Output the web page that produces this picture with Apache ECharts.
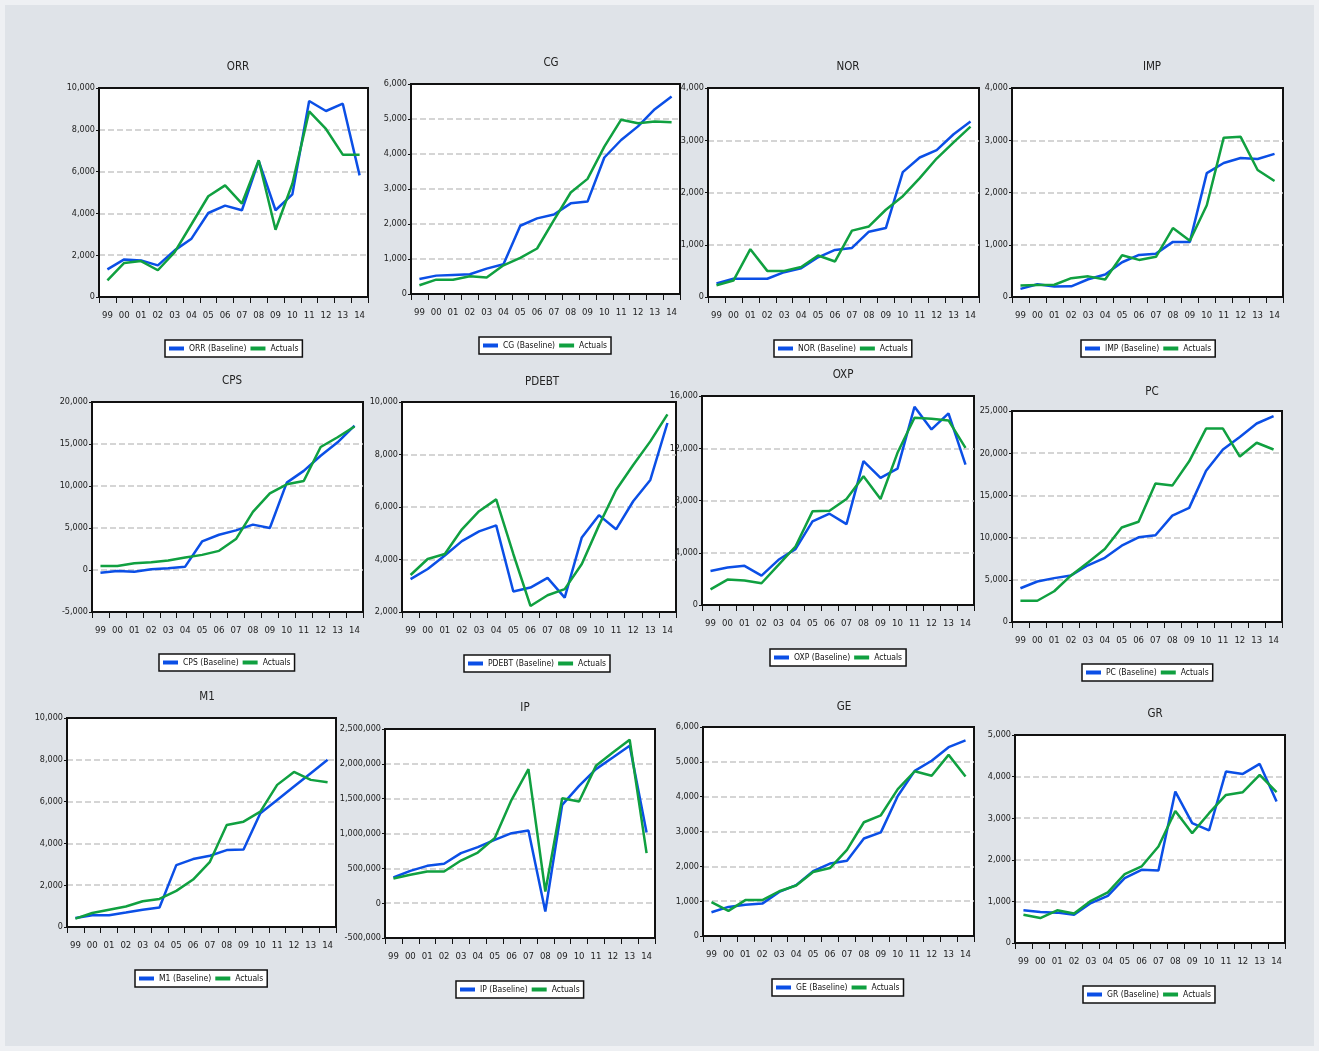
<!DOCTYPE html>
<html>
<head>
<meta charset="utf-8">
<script src="https://cdn.jsdelivr.net/npm/echarts@6/dist/echarts.min.js"></script>
<style>
  html, body { margin: 0; padding: 0; background: #eef0f3; }
  #main { width: 1319px; height: 1051px; background: #dfe3e8; box-shadow: inset 0 0 0 5px #eef0f3; }
</style>
</head>
<body>
<div id="main"></div>
<script>
var years = ['99', '00', '01', '02', '03', '04', '05', '06', '07', '08', '09', '10', '11', '12', '13', '14'];

var orrBase = [1320, 1800, 1750, 1515, 2230, 2790, 4020, 4370, 4150, 6510, 4150, 4910, 9380, 8900, 9250, 5820];
var orrAct  = [800, 1630, 1720, 1280, 2150, 3480, 4820, 5340, 4470, 6540, 3220, 5420, 8880, 8040, 6810, 6810];

var cgBase = [430, 525, 545, 565, 725, 850, 1950, 2160, 2270, 2590, 2640, 3900, 4400, 4790, 5280, 5645];
var cgAct  = [250, 410, 410, 505, 470, 820, 1030, 1300, 2110, 2900, 3290, 4210, 4980, 4880, 4930, 4910];

var norBase = [260, 350, 350, 350, 475, 550, 760, 900, 940, 1250, 1320, 2390, 2670, 2810, 3115, 3360];
var norAct  = [225, 315, 915, 500, 500, 575, 795, 680, 1270, 1350, 1670, 1930, 2275, 2650, 2960, 3260];

var impBase = [155, 245, 200, 205, 340, 430, 665, 805, 830, 1055, 1055, 2370, 2565, 2660, 2640, 2740];
var impAct  = [220, 230, 235, 360, 395, 335, 800, 710, 770, 1320, 1075, 1755, 3050, 3065, 2430, 2220];

var cpsBase = [-320, -120, -200, 80, 200, 400, 3400, 4200, 4720, 5400, 5000, 10400, 11800, 13600, 15200, 17200];
var cpsAct  = [480, 480, 800, 920, 1120, 1480, 1800, 2280, 3680, 6920, 9120, 10200, 10600, 14640, 15800, 17080];

var pdebtBase = [3250, 3640, 4150, 4700, 5070, 5300, 2780, 2930, 3300, 2550, 4840, 5690, 5150, 6220, 7030, 9200];
var pdebtAct  = [3410, 4020, 4210, 5150, 5840, 6290, 4210, 2230, 2640, 2870, 3830, 5300, 6650, 7600, 8500, 9530];

var oxpBase = [2610, 2870, 3000, 2250, 3460, 4275, 6400, 6990, 6195, 11010, 9730, 10445, 15180, 13440, 14670, 10750];
var oxpAct  = [1200, 1945, 1870, 1665, 3070, 4480, 7170, 7220, 8115, 9860, 8115, 11650, 14340, 14260, 14130, 12030];

var pcBase = [4000, 4800, 5200, 5520, 6720, 7600, 9040, 10040, 10280, 12600, 13520, 17920, 20440, 21920, 23520, 24400];
var pcAct  = [2520, 2520, 3640, 5520, 7040, 8640, 11200, 11880, 16400, 16160, 19040, 22920, 22920, 19600, 21240, 20440];

var m1Base = [430, 560, 560, 690, 830, 930, 2960, 3250, 3410, 3680, 3710, 5440, 6080, 6720, 7360, 8000];
var m1Act  = [400, 670, 830, 980, 1230, 1340, 1730, 2270, 3120, 4880, 5040, 5520, 6800, 7420, 7040, 6930];

var ipBase = [368000, 464000, 536000, 565000, 718000, 804000, 909000, 1005000, 1043000, -120000, 1412000, 1684000, 1924000, 2091000, 2259000, 1014000];
var ipAct  = [354000, 407000, 455000, 455000, 612000, 727000, 933000, 1483000, 1924000, 167000, 1507000, 1459000, 1971000, 2163000, 2345000, 718000];

var geBase = [680, 835, 900, 930, 1265, 1460, 1860, 2080, 2160, 2800, 2975, 4020, 4740, 5030, 5420, 5615];
var geAct  = [970, 720, 1030, 1030, 1285, 1450, 1840, 1950, 2470, 3265, 3465, 4215, 4730, 4600, 5200, 4580];

var grBase = [785, 745, 730, 680, 960, 1135, 1560, 1760, 1745, 3640, 2880, 2705, 4120, 4065, 4305, 3400];
var grAct  = [680, 600, 785, 710, 1015, 1215, 1655, 1840, 2320, 3175, 2640, 3120, 3560, 3625, 4040, 3625];

// name, baseline, actuals, y range, plot box, title centre, legend centre-x / top
var panels = [
    { name: 'ORR',   base: orrBase,   act: orrAct,   min: 0,       max: 10000,   step: 2000,    box: [99, 88, 269, 209],    title: [233, 63],   legend: [234, 340] },
    { name: 'CG',    base: cgBase,    act: cgAct,    min: 0,       max: 6000,    step: 1000,    box: [411, 84, 269, 210],   title: [546, 59],   legend: [545, 337] },
    { name: 'NOR',   base: norBase,   act: norAct,   min: 0,       max: 4000,    step: 1000,    box: [708, 88, 271, 209],   title: [843, 63],   legend: [843, 340] },
    { name: 'IMP',   base: impBase,   act: impAct,   min: 0,       max: 4000,    step: 1000,    box: [1012, 88, 271, 209],  title: [1147, 63],  legend: [1148, 340] },
    { name: 'CPS',   base: cpsBase,   act: cpsAct,   min: -5000,   max: 20000,   step: 5000,    box: [92, 402, 271, 210],   title: [227, 377],  legend: [227, 654] },
    { name: 'PDEBT', base: pdebtBase, act: pdebtAct, min: 2000,    max: 10000,   step: 2000,    box: [402, 402, 274, 210],  title: [537, 378],  legend: [537, 655] },
    { name: 'OXP',   base: oxpBase,   act: oxpAct,   min: 0,       max: 16000,   step: 4000,    box: [702, 396, 272, 209],  title: [838, 371],  legend: [838, 649] },
    { name: 'PC',    base: pcBase,    act: pcAct,    min: 0,       max: 25000,   step: 5000,    box: [1012, 411, 270, 211], title: [1147, 388], legend: [1147, 664] },
    { name: 'M1',    base: m1Base,    act: m1Act,    min: 0,       max: 10000,   step: 2000,    box: [67, 718, 269, 209],   title: [202, 693],  legend: [201, 970] },
    { name: 'IP',    base: ipBase,    act: ipAct,    min: -500000, max: 2500000, step: 500000,  box: [385, 729, 270, 209],  title: [520, 704],  legend: [520, 981] },
    { name: 'GE',    base: geBase,    act: geAct,    min: 0,       max: 6000,    step: 1000,    box: [703, 727, 271, 209],  title: [839, 703],  legend: [838, 979] },
    { name: 'GR',    base: grBase,    act: grAct,    min: 0,       max: 5000,    step: 1000,    box: [1015, 735, 270, 208], title: [1150, 710], legend: [1149, 986] }
];

var font = "'Liberation Sans Narrow', 'DejaVu Sans Condensed', 'Roboto Condensed', sans-serif";
var blue = '#0b4fe6';
var green = '#10a040';

var legendFontSize = 8.5;
var legendIconW = 15;

// measure legend text so each legend box can be centred under its panel
var measureCtx = document.createElement('canvas').getContext('2d');
measureCtx.font = legendFontSize + 'px ' + font;
function legendWidth(a, b) {
    return 8 + (legendIconW + 5 + measureCtx.measureText(a).width) + 4 +
        (legendIconW + 5 + measureCtx.measureText(b).width);
}

var option = {
    animation: false,
    textStyle: { fontFamily: font },
    title: [], grid: [], xAxis: [], yAxis: [], legend: [], series: []
};

panels.forEach(function (p, i) {
    var baseName = p.name + ' (Baseline)';
    option.title.push({
        text: p.name,
        left: p.title[0], top: p.title[1] - 7,
        textAlign: 'center',
        textStyle: { fontFamily: font, fontSize: 11.5, fontWeight: 'normal', color: '#222' }
    });
    option.grid.push({
        left: p.box[0], top: p.box[1], width: p.box[2], height: p.box[3],
        show: true, backgroundColor: '#fff', borderColor: '#111', borderWidth: 2,
        containLabel: false, z: 0
    });
    option.xAxis.push({
        type: 'category', gridIndex: i, data: years, boundaryGap: true, z: 3,
        axisLine: { onZero: false, lineStyle: { color: '#111', width: 2 } },
        axisTick: { show: true, length: 6, lineStyle: { color: '#111' } },
        axisLabel: { fontFamily: font, fontSize: 9.5, color: '#222', margin: 14, interval: 0 },
        splitLine: { show: false }
    });
    option.yAxis.push({
        type: 'value', gridIndex: i, min: p.min, max: p.max, interval: p.step, z: 3,
        axisLine: { show: true, lineStyle: { color: '#111', width: 2 } },
        axisTick: { show: true, length: 3, lineStyle: { color: '#111' } },
        axisLabel: { fontFamily: font, fontSize: 9, color: '#222', margin: 4 },
        splitLine: {
            show: true, showMinLine: false, showMaxLine: false,
            lineStyle: { color: '#c8c8c8', type: 'dashed', width: 1.5 }
        }
    });
    option.legend.push({
        data: [baseName, 'Actuals'],
        left: Math.round(p.legend[0] - legendWidth(baseName, 'Actuals') / 2), top: p.legend[1],
        orient: 'horizontal',
        backgroundColor: '#fff', borderColor: '#111', borderWidth: 1.5,
        padding: [4, 4], itemGap: 4, itemWidth: legendIconW, itemHeight: 4,
        icon: 'rect',
        textStyle: { fontFamily: font, fontSize: legendFontSize, color: '#111' }
    });
    option.series.push({
        name: baseName, type: 'line', xAxisIndex: i, yAxisIndex: i,
        data: p.base, symbol: 'none', color: blue, z: 4,
        lineStyle: { color: blue, width: 2.5 }
    });
    option.series.push({
        name: 'Actuals', type: 'line', xAxisIndex: i, yAxisIndex: i,
        data: p.act, symbol: 'none', color: green, z: 4,
        lineStyle: { color: green, width: 2.5 }
    });
});

var myChart = echarts.init(document.getElementById('main'));
myChart.setOption(option);
</script>
</body>
</html>
